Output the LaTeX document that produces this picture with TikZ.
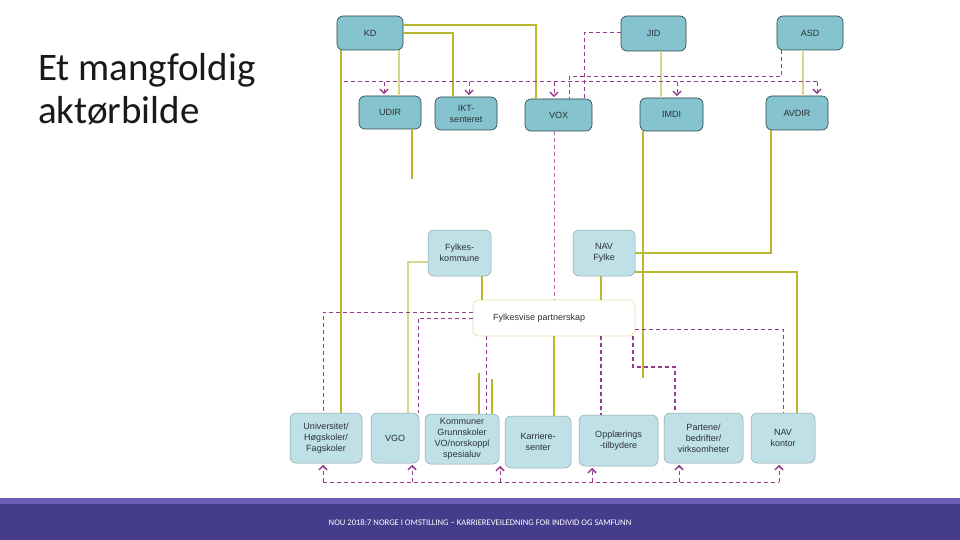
\documentclass[tikz,border=0pt]{standalone}
\usepackage{fontspec}
\setmainfont{Liberation Sans}
\newfontfamily\calfont{Carlito}
\usetikzlibrary{arrows.meta}
\definecolor{tealA}{HTML}{85C3CE}
\definecolor{tealB}{HTML}{BFE0E6}
\definecolor{bordA}{HTML}{2D4448}
\definecolor{bordB}{HTML}{8AA5AB}
\definecolor{txtc}{HTML}{2A3236}
\definecolor{ylw}{HTML}{B8B82C}
\definecolor{ylwpale}{HTML}{D6D68C}
\definecolor{prp}{HTML}{963C8C}
\definecolor{prppale}{HTML}{B86AAE}
\definecolor{bandA}{HTML}{6B5CB5}
\definecolor{bandB}{HTML}{463C8C}
\definecolor{partbord}{HTML}{E2E4A8}
\begin{document}
\begin{tikzpicture}[x=1pt,y=-1pt,
  base/.style={rounded corners=6pt, inner sep=0pt, align=center, text=txtc,
    font=\fontsize{9}{11}\selectfont},
  topbox/.style={base, draw=bordA, fill=tealA, line width=0.6pt},
  midbox/.style={base, draw=bordB, fill=tealB, line width=0.5pt},
  botbox/.style={base, draw=bordB, fill=tealB, line width=0.5pt},
  partbox/.style={base, draw=partbord, fill=white, line width=0.7pt},
  yl/.style={draw=ylw, line width=1.1pt},
  ylp/.style={draw=ylwpale, line width=1.1pt},
  pd/.style={draw=prp, line width=1pt, dash pattern=on 4pt off 3pt},
  pdthin/.style={draw=prppale, line width=0.7pt, dash pattern=on 4pt off 3pt},
  pdthick/.style={draw=prp, line width=1.6pt, dash pattern=on 4pt off 3pt},
  arr/.style={-{Straight Barb[length=4pt,width=8pt,line width=1.5pt]}, shorten >=1.5pt},
]
\useasboundingbox (0,0) rectangle (960,540);
\fill[white] (0,0) rectangle (960,540);

% title
\node[anchor=base west, inner sep=0pt, font=\calfont\fontsize{39}{45}\selectfont, text=black!90] (title1) at (38,81) {Et mangfoldig};
\node[anchor=base west, inner sep=0pt, font=\calfont\fontsize{39}{45}\selectfont, text=black!90] (title2) at (38,124) {aktørbilde};

% top level
\node[topbox, minimum width=66pt, minimum height=34pt] (KD) at (370,33) {KD};
\node[topbox, minimum width=65pt, minimum height=35pt] (JID) at (653.5,33.5) {JID};
\node[topbox, minimum width=66pt, minimum height=34pt] (ASD) at (810,33) {ASD};
% second level
\node[topbox, minimum width=62pt, minimum height=33pt] (UDIR) at (390,112.5) {UDIR};
\node[topbox, minimum width=62pt, minimum height=33pt] (IKT) at (466,113.5) {IKT-\\senteret};
\node[topbox, minimum width=67pt, minimum height=32pt] (VOX) at (558.5,115) {VOX};
\node[topbox, minimum width=63pt, minimum height=33pt] (IMDI) at (671.5,114.5) {IMDI};
\node[topbox, minimum width=62pt, minimum height=34pt] (AVDIR) at (797,113) {AVDIR};
% county level
\node[midbox, minimum width=63pt, minimum height=46pt] (FK) at (459.5,253) {Fylkes-\\kommune};
\node[midbox, minimum width=62pt, minimum height=46pt] (NAVF) at (604,253) {NAV\\Fylke};
\node[partbox, minimum width=162pt, minimum height=36pt] (PART) at (554,318) {};
\node[anchor=west, inner sep=0pt, text=txtc, font=\fontsize{9}{11}\selectfont] (PARTtxt) at (493,318) {Fylkesvise partnerskap};
% bottom level
\node[botbox, minimum width=72pt, minimum height=50pt] (UNI) at (326,438) {Universitet/\\Høgskoler/\\Fagskoler};
\node[botbox, minimum width=48pt, minimum height=50pt] (VGO) at (395,438) {VGO};
\node[botbox, minimum width=74pt, minimum height=50pt] (KOM) at (462,439) {Kommuner\\Grunnskoler\\VO/norskoppl\\spesialuv};
\node[botbox, minimum width=66pt, minimum height=52pt] (KAR) at (538,442) {Karriere-\\senter};
\node[botbox, minimum width=79pt, minimum height=51pt] (OPP) at (618.5,440.5) {Opplærings\\-tilbydere};
\node[botbox, minimum width=79pt, minimum height=50pt] (PTN) at (703.5,438) {Partene/\\bedrifter/\\virksomheter};
\node[botbox, minimum width=64pt, minimum height=50pt] (NAVK) at (783,438) {NAV\\kontor};

% free ends
\coordinate (udirEnd) at (412,179);
\coordinate (imdiEnd) at (643,378);
\coordinate (komA) at (479,373);
\coordinate (komB) at (492,379);
\coordinate (asdBend) at (569,77);
\coordinate (ptnBend) at (675,367);
\coordinate (busTL) at (344,82);
\coordinate (busTR) at (817,82);
\coordinate (busBL) at (323,482);
\coordinate (busBR) at (779,482);

% yellow lines
\draw[yl] (KD.east |- 0,25) -| (VOX.north -| 536,0);
\draw[yl] (KD.east |- 0,33) -| (IKT.north -| 453,0);
\draw[yl] (KD.south -| 341,0) -- (UNI.north -| 341,0);
\draw[ylp] (KD.south -| 399,0) -- (UDIR.north -| 399,0);
\draw[yl] (UDIR.south -| 412,0) -- (udirEnd);
\draw[ylp] (FK.west |- 0,262) -| (VGO.north -| 408,0);
\draw[yl] (FK.south -| 482,0) -- (PART.north -| 482,0);
\draw[yl] (NAVF.south -| 601,0) -- (PART.north -| 601,0);
\draw[yl] (AVDIR.south -| 771,0) |- (NAVF.east |- 0,253);
\draw[yl] (NAVF.east |- 0,272) -| (NAVK.north -| 797,0);
\draw[yl] (IMDI.south -| 643,0) -- (imdiEnd);
\draw[ylp] (JID.south -| 661,0) -- (IMDI.north -| 661,0);
\draw[ylp] (ASD.south -| 803,0) -- (AVDIR.north -| 803,0);
\draw[yl] (KOM.north -| komA) -- (komA);
\draw[yl] (KOM.north -| komB) -- (komB);
\draw[yl] (PART.south -| 554,0) -- (KAR.north -| 554,0);

% purple dashed lines
\draw[pd] (JID.west |- 0,33) -| (VOX.north -| 584,0);
\draw[pd] (ASD.south -| 781,0) |- (asdBend) -- (VOX.north -| asdBend);
\draw[pd] (busTL) -- (busTR);
\foreach \n/\x in {UDIR/384, IKT/469, VOX/554, IMDI/677, AVDIR/817}
  \draw[pd, arr] (\x,82) -- (\n.north -| \x,0);
\draw[pdthin] (VOX.south -| 554,0) -- (PART.north -| 554,0);
\draw[pd] (PART.west |- 0,312) -| (UNI.north -| 323,0);
\draw[pd] (PART.west |- 0,318) -| (VGO.north -| 418,0);
\draw[pd] (PART.south -| 486,0) -- (KOM.north -| 486,0);
\draw[pdthick] (PART.south -| 601,0) -- (OPP.north -| 601,0);
\draw[pd] (PART.east |- 0,329) -| (NAVK.north -| 783,0);
\draw[pdthick] (PART.south -| 633,0) |- (ptnBend) -- (PTN.north -| ptnBend);
\draw[pd] (busBL) -- (busBR);
\foreach \n/\x in {UNI/323, VGO/412, KOM/500, OPP/592, PTN/679, NAVK/779}
  \draw[pd, arr] (\x,482) -- (\n.south -| \x,0);

% footer
\fill[bandA] (0,498) rectangle (960,504);
\fill[bandB] (0,504) rectangle (960,540);
\node[inner sep=0pt, text=white, font=\calfont\fontsize{8.6}{9}\selectfont] (footer) at (480,523) {NOU 2018:7 NORGE I OMSTILLING – KARRIEREVEILEDNING FOR INDIVID OG SAMFUNN};
\end{tikzpicture}
\end{document}
